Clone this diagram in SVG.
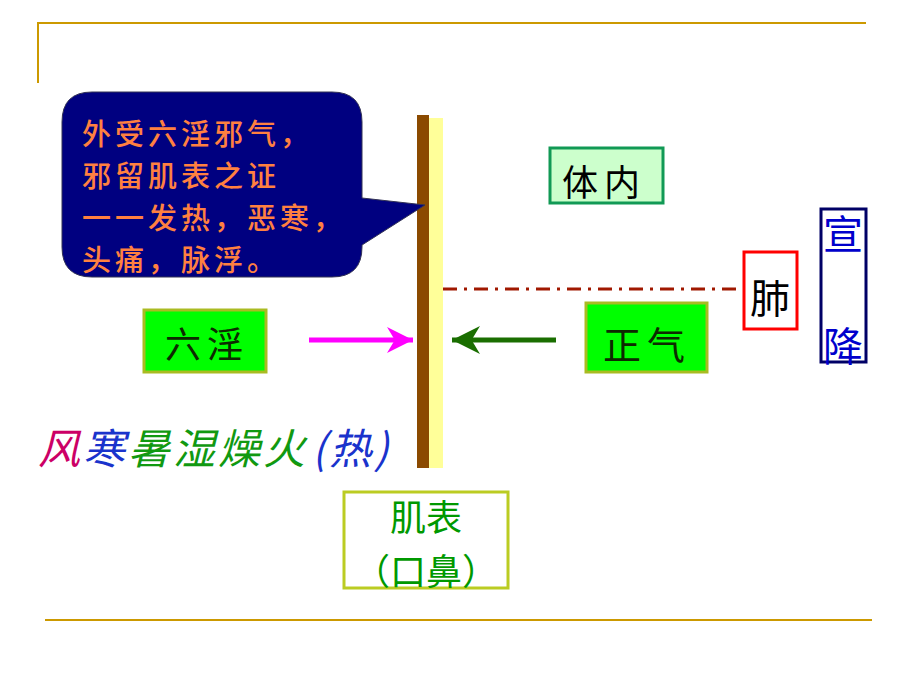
<svg xmlns="http://www.w3.org/2000/svg" width="920" height="690" viewBox="0 0 920 690">
<style>
.cjk{font-family:"Noto Sans CJK SC","Noto Sans CJK JP",sans-serif;}
.frame{stroke:#cc9900;stroke-width:2;fill:none;}
.mid{text-anchor:middle;}
</style>
<defs>
<marker id="ahPink" viewBox="0 0 10 10" refX="10" refY="5" markerWidth="5.2" markerHeight="5.2" markerUnits="strokeWidth" orient="auto"><path d="M0,0 L10,5 L0,10 L3,5 Z" fill="#ff00ff"/></marker>
<marker id="ahGreen" viewBox="0 0 10 10" refX="10" refY="5" markerWidth="5.6" markerHeight="5.6" markerUnits="strokeWidth" orient="auto"><path d="M0,0 L10,5 L0,10 L3,5 Z" fill="#1a6e00"/></marker>
</defs>
<rect width="920" height="690" fill="#ffffff"/>
<g id="frame">
<path class="frame" d="M38,83 V23 H866"/>
<path class="frame" d="M45,620 H872"/>
</g>
<g id="barrier">
<rect x="417" y="115" width="12" height="353" fill="#8b4a00"/>
<rect x="429" y="118" width="14" height="350" fill="#ffff99"/>
</g>
<g id="callout">
<path d="M92,92 H332 Q362,92 362,122 V198 L425,205 L362,245 V247 Q362,277 332,277 H92 Q62,277 62,247 V122 Q62,92 92,92 Z" fill="#000080" stroke="#333355" stroke-width="1"/>
<text class="cjk" font-size="29" font-weight="500" letter-spacing="4" fill="#ff8040" x="82"><tspan x="82" y="145">外受六淫邪气，</tspan><tspan x="82" y="187">邪留肌表之证</tspan><tspan x="82" y="229">一一发热，恶寒，</tspan><tspan x="82" y="271">头痛，脉浮。</tspan></text>
</g>
<g id="tinei">
<rect x="550" y="148" width="113" height="55" fill="#ccffcc" stroke="#119955" stroke-width="3"/>
<text class="cjk mid" x="604" y="196" font-size="36" fill="#000" letter-spacing="6">体内</text>
</g>
<g id="fei">
<rect x="744" y="252" width="53" height="77" fill="#ffffff" stroke="#ff0000" stroke-width="3"/>
<text class="cjk mid" x="770" y="313" font-size="40" fill="#000">肺</text>
</g>
<g id="xuanjiang">
<rect x="821" y="209" width="45" height="153" fill="#ffffff" stroke="#000066" stroke-width="3"/>
<text class="cjk mid" x="843" y="249" font-size="40" fill="#0000cc">宣</text>
<text class="cjk mid" x="843" y="361" font-size="40" fill="#0000cc">降</text>
</g>
<g id="zhengqi">
<rect x="586" y="303" width="121" height="69" fill="#00ff00" stroke="#aabb22" stroke-width="3"/>
<text class="cjk mid" x="647" y="359" font-size="38" fill="#0d2a00" letter-spacing="6">正气</text>
</g>
<g id="liuyin">
<rect x="144" y="310" width="122" height="62" fill="#00ff00" stroke="#aabb22" stroke-width="3"/>
<text class="cjk mid" x="207" y="358" font-size="36" fill="#0d2a00" letter-spacing="6">六淫</text>
</g>
<g id="jibiao">
<rect x="344" y="492" width="164" height="96" fill="none" stroke="#bbcc22" stroke-width="3"/>
<text class="cjk mid" x="426" y="531" font-size="36" fill="#009900">肌表</text>
<text class="cjk mid" x="426" y="585" font-size="36" fill="#009900">（口鼻）</text>
</g>
<g id="xieqi">
<text class="cjk" x="38" y="464" font-size="42" font-style="italic" letter-spacing="3"><tspan fill="#cc0066">风</tspan><tspan fill="#1a33cc">寒</tspan><tspan fill="#119911">暑湿燥火</tspan><tspan fill="#1a33cc" dx="4">(热)</tspan></text>
</g>
<g id="connectors">
<line x1="443" y1="289" x2="740" y2="289" stroke="#a01800" stroke-width="3" stroke-dasharray="14 7 3 7"/>
<line x1="309" y1="340" x2="413" y2="340" stroke="#ff00ff" stroke-width="5" marker-end="url(#ahPink)"/>
<line x1="556" y1="340" x2="452" y2="340" stroke="#1a6e00" stroke-width="5" marker-end="url(#ahGreen)"/>
</g>
</svg>
